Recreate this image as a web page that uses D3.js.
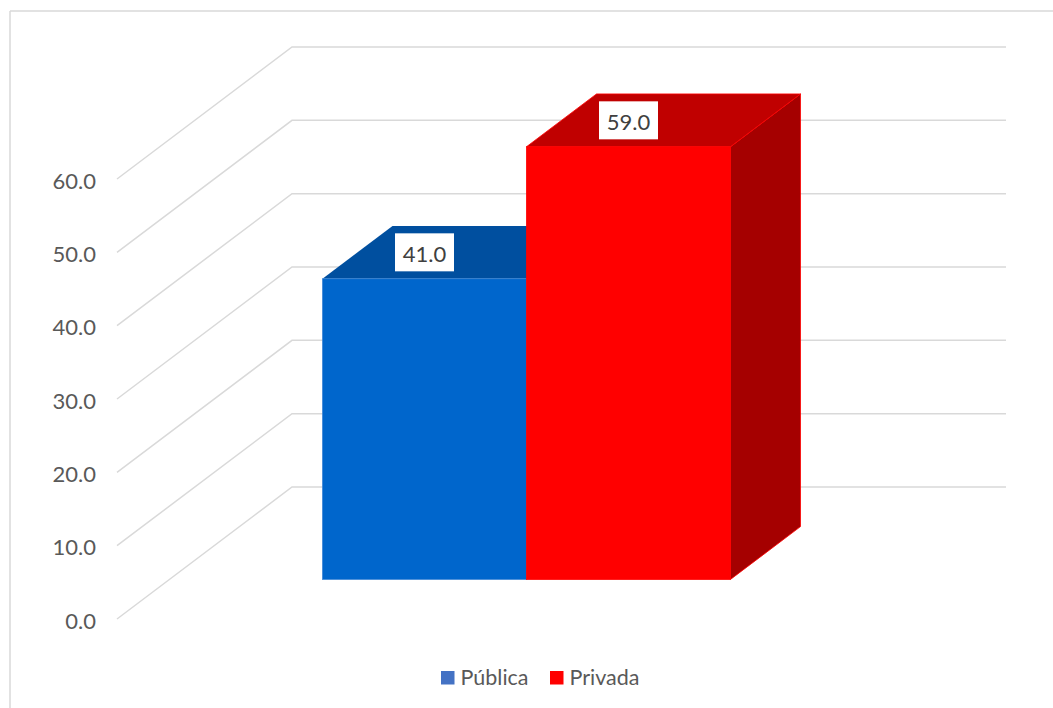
<!DOCTYPE html>
<html>
<head>
<meta charset="utf-8">
<script src="https://cdn.jsdelivr.net/npm/d3@7"></script>
<style>
  html, body { margin: 0; padding: 0; background: #fff; }
  svg { display: block; }
  text { font-family: Lato, "Open Sans", sans-serif; }
</style>
</head>
<body>
<svg id="chart" width="1053" height="708"></svg>
<script>
// Share of respondents by sector
const categories = ["Sector"];
const seriesNames = ["Pública", "Privada"];
const seriesValues = [41.0, 59.0];
const tickValues = [0, 10, 20, 30, 40, 50, 60];
const tickLabels = ["0.0", "10.0", "20.0", "30.0", "40.0", "50.0", "60.0"];

const frontColors = ["#0066CC", "#FF0000"];
const topColors = ["#004F9F", "#C00000"];
const sideColors = ["#003F80", "#A50000"];
const edgeColors = ["#3E86D6", "#FF0000"];
const legendColors = ["#4472C4", "#FF0000"];

const svg = d3.select("#chart");

// 3D projection: x along the plane, value upwards, z = depth (0 front, 1 back wall)
const origin = { x: 117, y: 619 };
const depthVec = { x: 175, y: -132 };
const planeWidth = 714;

const yScale = d3.scaleLinear().domain([0, 60]).range([0, 440]);
const zScale = d3.scaleLinear().domain([0, 1]).range([0, 1]);

function P(x, v, z) {
  const t = zScale(z);
  return [origin.x + x + t * depthVec.x, origin.y - yScale(v) + t * depthVec.y];
}

// chart frame
svg.append("line").attr("x1", 10).attr("y1", 11).attr("x2", 1053).attr("y2", 11)
  .attr("stroke", "#D9D9D9").attr("stroke-width", 1.5);
svg.append("line").attr("x1", 10).attr("y1", 11).attr("x2", 10).attr("y2", 708)
  .attr("stroke", "#D9D9D9").attr("stroke-width", 1.5);

// gridlines: side wall diagonal + back wall horizontal
const grid = svg.append("g").attr("fill", "none").attr("stroke", "#D9D9D9").attr("stroke-width", 1.5);
tickValues.forEach(v => {
  const a = P(0, v, 0), b = P(0, v, 1), c = P(planeWidth, v, 1);
  grid.append("path").attr("d", d3.line()([a, b, c]));
});

// tick labels
svg.append("g").selectAll("text").data(tickValues).join("text")
  .attr("x", 96)
  .attr("y", (d) => P(0, d, 0)[1] + 1)
  .attr("text-anchor", "end")
  .attr("dominant-baseline", "central")
  .attr("font-size", 22)
  .attr("fill", "#595959")
  .text((d, i) => tickLabels[i]);

// category and series bands on the bar plane
const x0 = d3.scaleBand().domain(categories).range([0, planeWidth]);
const gap = 1.5; // gap width relative to a bar
const barW = x0.bandwidth() / (seriesNames.length + gap);
const x1 = d3.scaleBand().domain(seriesNames)
  .range([barW * gap / 2, barW * gap / 2 + barW * seriesNames.length]);

const zFront = 0.3, zBack = 0.7;

const bars = svg.append("g");
seriesNames.forEach((name, i) => {
  const v = seriesValues[i];
  const xl = x0(categories[0]) + x1(name);
  const xr = xl + x1.bandwidth();
  const g = bars.append("g");
  const poly = pts => "M" + pts.map(p => p.join(",")).join("L") + "Z";
  // right side face
  g.append("path")
    .attr("d", poly([P(xr, 0, zFront), P(xr, 0, zBack), P(xr, v, zBack), P(xr, v, zFront)]))
    .attr("fill", sideColors[i]).attr("stroke", edgeColors[i]).attr("stroke-width", 0.8);
  // top face
  g.append("path")
    .attr("d", poly([P(xl, v, zFront), P(xl, v, zBack), P(xr, v, zBack), P(xr, v, zFront)]))
    .attr("fill", topColors[i]).attr("stroke", i === 1 ? edgeColors[i] : "none").attr("stroke-width", 0.8);
  // front face
  const f0 = P(xl, v, zFront), f1 = P(xr, 0, zFront);
  g.append("rect")
    .attr("x", f0[0]).attr("y", f0[1])
    .attr("width", f1[0] - f0[0]).attr("height", f1[1] - f0[1])
    .attr("fill", frontColors[i]).attr("stroke", edgeColors[i]).attr("stroke-width", 0.8);
});

// data labels
const labels = svg.append("g");
seriesNames.forEach((name, i) => {
  const v = seriesValues[i];
  const cx = x0(categories[0]) + x1(name) + x1.bandwidth() / 2;
  const lx = P(cx, v, zFront)[0];
  const ly = P(cx, v, (zFront + zBack) / 2)[1];
  labels.append("rect")
    .attr("x", lx - 29.5).attr("y", ly - 19)
    .attr("width", 59).attr("height", 38)
    .attr("fill", "#fff");
  labels.append("text")
    .attr("x", lx).attr("y", ly + 1)
    .attr("text-anchor", "middle").attr("dominant-baseline", "central")
    .attr("font-size", 22).attr("fill", "#404040")
    .text(v.toFixed(1));
});

// legend
const legend = svg.append("g");
const legendX = [441, 550];
seriesNames.forEach((name, i) => {
  legend.append("rect")
    .attr("x", legendX[i]).attr("y", 671)
    .attr("width", 13.5).attr("height", 13.5)
    .attr("fill", legendColors[i]);
  legend.append("text")
    .attr("x", legendX[i] + 19.5).attr("y", 684.5)
    .attr("font-size", 21.5).attr("fill", "#595959")
    .text(name);
});
</script>
</body>
</html>
